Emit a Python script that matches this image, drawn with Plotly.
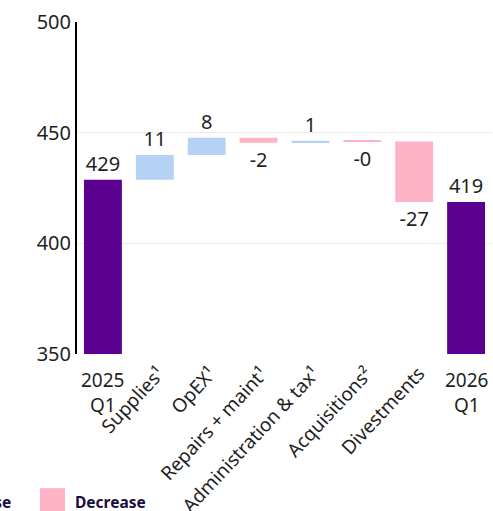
import plotly.graph_objects as go

categories = ["2025<br>Q1", "Supplies¹", "OpEX¹", "Repairs + maint¹",
              "Administration & tax¹", "Acquisitions²", "Divestments", "2026<br>Q1"]
measures = ["total", "relative", "relative", "relative", "relative", "relative", "relative", "total"]
values = [428.7, 11.2, 7.8, -2.3, 0.9, -0.3, -27.3, 418.7]
y_ticks = [350, 400, 450, 500]

C_TOTAL = "#5B0091"
C_INC = "#B5D2F5"
C_DEC = "#FFB3C6"
FONT = "Noto Sans"
TXT = "#1f1f1f"

# build bar bases from the values
tot_x, tot_y, tot_t = [], [], []
inc_x, inc_y, inc_b, inc_t = [], [], [], []
dec_x, dec_y, dec_b, dec_t = [], [], [], []
running = 0.0
for c, m, v in zip(categories, measures, values):
    lab = f"{v:.0f}"
    if m == "total":
        running = v
        tot_x.append(c); tot_y.append(v); tot_t.append(lab)
    elif v >= 0:
        inc_x.append(c); inc_y.append(v); inc_b.append(running); inc_t.append(lab)
        running += v
    else:
        dec_x.append(c); dec_y.append(v); dec_b.append(running); dec_t.append(lab)
        running += v

common = dict(textposition="outside", cliponaxis=False, constraintext="none",
              textfont=dict(size=20, color=TXT, family=FONT), showlegend=False,
              marker_line_width=0)
fig = go.Figure()
fig.add_trace(go.Bar(x=tot_x, y=tot_y, text=tot_t, marker_color=C_TOTAL, name="Total", **common))
fig.add_trace(go.Bar(x=inc_x, y=inc_y, base=inc_b, text=inc_t, marker_color=C_INC, name="Increase", **common))
fig.add_trace(go.Bar(x=dec_x, y=dec_y, base=dec_b, text=dec_t, marker_color=C_DEC, name="Decrease", **common))

annotations = []
for i, c in enumerate(categories):
    if "<br>" in c:
        annotations.append(dict(x=c, xref="x", y=-0.033, yref="paper", text=c, showarrow=False,
                                xanchor="center", yanchor="top", align="center",
                                font=dict(size=19, color=TXT, family=FONT)))
    else:
        annotations.append(dict(x=c, xref="x", y=-0.013, yref="paper", text=c, showarrow=False,
                                xanchor="right", yanchor="top", textangle=-47, xshift=18,
                                font=dict(size=19, color=TXT, family=FONT)))

# legend (partly outside the canvas like the reference)
shapes = [
    dict(type="rect", xref="paper", yref="paper", x0=-0.0892, x1=-0.0289, y0=-0.404, y1=-0.48,
         fillcolor=C_DEC, line_width=0),
    dict(type="rect", xref="paper", yref="paper", x0=-0.35, x1=-0.29, y0=-0.404, y1=-0.48,
         fillcolor=C_INC, line_width=0),
]
annotations.append(dict(x=-0.0096, xref="paper", y=-0.446, yref="paper", text="<b>Decrease</b>",
                        showarrow=False, xanchor="left", yanchor="middle",
                        font=dict(size=15.5, color="#1B0E3F", family=FONT)))
annotations.append(dict(x=-0.154, xref="paper", y=-0.446, yref="paper", text="<b>Increase</b>",
                        showarrow=False, xanchor="right", yanchor="middle",
                        font=dict(size=15.5, color="#1B0E3F", family=FONT)))

fig.update_layout(
    width=493, height=511,
    margin=dict(l=77, r=1, t=22, b=157),
    plot_bgcolor="white", paper_bgcolor="white",
    barmode="overlay", bargap=0.27,
    font=dict(family=FONT, size=19, color=TXT),
    annotations=annotations, shapes=shapes,
    xaxis=dict(showticklabels=False, showgrid=False, zeroline=False, showline=False,
               categoryorder="array", categoryarray=categories),
    yaxis=dict(range=[350, 500], tickvals=y_ticks, showgrid=True, gridcolor="#EBEBEB",
               gridwidth=1, zeroline=False, showline=True, linecolor="black", linewidth=2,
               ticks="", tickfont=dict(size=20, color=TXT, family=FONT)),
)
fig.write_html("out.html")
